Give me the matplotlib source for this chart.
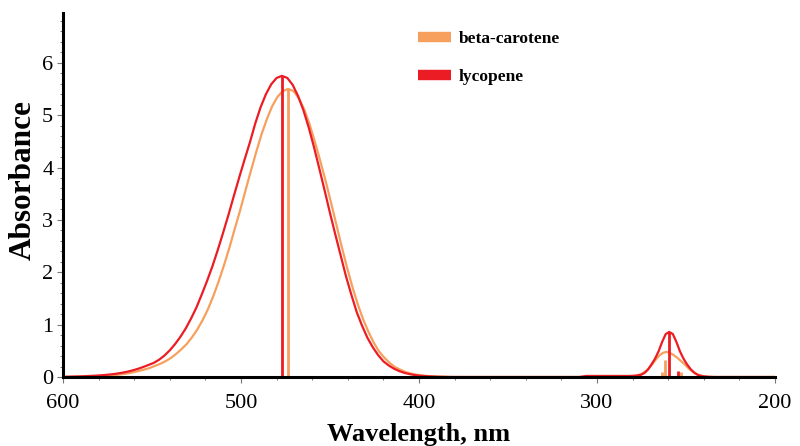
import matplotlib
matplotlib.use("Agg")
import matplotlib.pyplot as plt
from matplotlib.ticker import MultipleLocator
from matplotlib.lines import Line2D

# ---- data ----
lyc_wl = [600, 590, 582, 577, 573, 570, 567, 564, 561, 558, 555, 552, 549, 546, 543, 540, 537,
          534, 531, 528, 525, 522, 519, 516, 513, 510, 507, 504, 501, 498, 495, 492, 489,
          486, 483, 480, 477, 474, 471, 468, 465, 462, 459, 456, 453, 450, 447, 444, 441,
          438, 435, 432, 429, 426, 423, 420, 417, 414, 411, 408, 405, 402, 399, 395, 390,
          382, 310, 306, 295, 282, 278.4, 275.4, 273.4, 271.4, 269.4, 267.4, 265.4, 263.4,
          261.4, 259.4, 257.4, 255.4, 253.4, 251.4, 249.4, 247.4, 245.4, 243.4, 241, 238,
          235, 200]
lyc_abs = [0.003, 0.012, 0.025, 0.037, 0.05, 0.063, 0.08, 0.10, 0.125, 0.155, 0.19, 0.23, 0.27, 0.33, 0.41, 0.51, 0.63,
           0.77, 0.93, 1.12, 1.33, 1.58, 1.84, 2.12, 2.43, 2.76, 3.10, 3.46, 3.81, 4.15, 4.48, 4.84, 5.15,
           5.40, 5.59, 5.71, 5.75, 5.71, 5.58, 5.37, 5.10, 4.77, 4.39, 3.98, 3.56, 3.13, 2.72, 2.32, 1.92,
           1.57, 1.24, 0.98, 0.75, 0.57, 0.42, 0.30, 0.22, 0.158, 0.111, 0.077, 0.053, 0.035, 0.023, 0.013, 0.005,
           0.0, 0.0, 0.02, 0.02, 0.02, 0.025, 0.04, 0.075, 0.14, 0.24, 0.35, 0.49, 0.67,
           0.82, 0.86, 0.82, 0.67, 0.49, 0.35, 0.24, 0.15, 0.085, 0.04, 0.015, 0.004,
           0.0, 0.0]

bc_wl = [600, 589.5, 579.5, 572.5, 567.5, 563.5, 560.5, 557.5, 554.5, 551.5, 548.5, 545.5, 542.5,
         539.5, 536.5, 533.5, 530.5, 527.5, 524.5, 521.5, 518.5, 515.5, 512.5, 509.5, 506.5,
         503.5, 500.5, 497.5, 494.5, 491.5, 488.5, 485.5, 482.5, 479.5, 476.5, 473.5, 470.5,
         467.5, 464.5, 461.5, 458.5, 455.5, 452.5, 449.5, 446.5, 443.5, 440.5, 437.5, 434.5,
         431.5, 428.5, 425.5, 422.5, 419.5, 416.5, 413.5, 410.5, 407.5, 404.5, 401.5, 398.5,
         394.5, 389.5, 383.5, 378.5, 290, 284, 280, 277, 275, 273, 271, 269, 267, 265, 263,
         261, 259, 257, 255, 253, 251, 249, 247, 245, 243, 240, 237, 233, 200]
bc_abs = [0.0, 0.005, 0.015, 0.03, 0.05, 0.07, 0.09, 0.115, 0.14, 0.17, 0.21, 0.25, 0.30,
          0.36, 0.44, 0.53, 0.63, 0.76, 0.91, 1.09, 1.30, 1.55, 1.83, 2.14, 2.47,
          2.83, 3.18, 3.56, 3.93, 4.29, 4.63, 4.92, 5.17, 5.35, 5.46, 5.50, 5.46,
          5.32, 5.11, 4.83, 4.49, 4.13, 3.75, 3.34, 2.92, 2.50, 2.10, 1.73, 1.40,
          1.11, 0.87, 0.66, 0.49, 0.37, 0.27, 0.19, 0.14, 0.096, 0.066, 0.045, 0.03,
          0.017, 0.008, 0.002, 0.0, 0.0, 0.004, 0.015, 0.035, 0.06, 0.10, 0.16, 0.24, 0.33, 0.41, 0.46,
          0.48, 0.46, 0.42, 0.37, 0.31, 0.25, 0.18, 0.12, 0.07, 0.04, 0.015, 0.004, 0.0, 0.0]

lyc_stick_wl = [477, 259.4, 254.3]
lyc_stick_abs = [5.75, 0.86, 0.12]
bc_stick_wl = [473.4, 261.8, 263.5, 252.8]
bc_stick_abs = [5.5, 0.33, 0.1, 0.1]

labels = ["beta-carotene", "lycopene"]
xticks = [600, 500, 400, 300, 200]
yticks = [0, 1, 2, 3, 4, 5, 6]

RED = "#EC1C24"
ORANGE = "#F7A05E"
SERIF = ["Liberation Serif", "DejaVu Serif"]

fig = plt.figure(figsize=(8.0, 4.46), dpi=100)
ax = fig.add_axes([63 / 800, 1 - 377 / 446, (775 - 63) / 800, (377 - 13) / 446])

ax.plot(bc_wl, bc_abs, color=ORANGE, lw=1.6, zorder=2, solid_joinstyle="round")
ax.vlines(bc_stick_wl, 0, bc_stick_abs, color=ORANGE, lw=2.0, zorder=2)
ax.plot(lyc_wl, lyc_abs, color=RED, lw=1.6, zorder=3, solid_joinstyle="round")
ax.vlines(lyc_stick_wl, 0, lyc_stick_abs, color=RED, lw=2.0, zorder=3)

ax.set_xlim(600, 200)
ax.set_ylim(0, 6.95)
ax.set_xticks(xticks)
ax.set_yticks(yticks)
ax.xaxis.set_minor_locator(MultipleLocator(20))
ax.yaxis.set_minor_locator(MultipleLocator(0.2))

for s in ["top", "right"]:
    ax.spines[s].set_visible(False)
for s in ["left", "bottom"]:
    ax.spines[s].set_linewidth(2.2)
    ax.spines[s].set_color("black")
    ax.spines[s].set_zorder(4)

ax.tick_params(axis="both", which="major", direction="out", length=4, width=0.8,
               color="#777777", labelsize=16, pad=3)
ax.tick_params(axis="both", which="minor", direction="out", length=2.5, width=0.7,
               color="#777777")
ax.tick_params(axis="x", which="major", pad=8)
for lab in ax.get_xticklabels() + ax.get_yticklabels():
    lab.set_fontfamily(SERIF)

ax.set_xlabel("Wavelength, nm", fontsize=19, fontweight="bold", family=SERIF)
ax.xaxis.set_label_coords(0.5, -0.125)
ax.set_ylabel("Absorbance", fontsize=22.5, fontweight="bold", family=SERIF)
ax.yaxis.set_label_coords(-0.035, 0.54)

handles = [Line2D([], [], color=ORANGE, lw=7.5, solid_capstyle="butt"),
           Line2D([], [], color=RED, lw=7.5, solid_capstyle="butt")]
ax.legend(handles, labels, loc="upper left", bbox_to_anchor=(418 / 800, 1 - 31 / 446),
          bbox_transform=fig.transFigure, frameon=False, borderpad=0, borderaxespad=0,
          handlelength=1.9, handletextpad=0.45, labelspacing=1.25,
          prop={"family": SERIF, "weight": "bold", "size": 12.5})

fig.savefig("out.png", dpi=100)
